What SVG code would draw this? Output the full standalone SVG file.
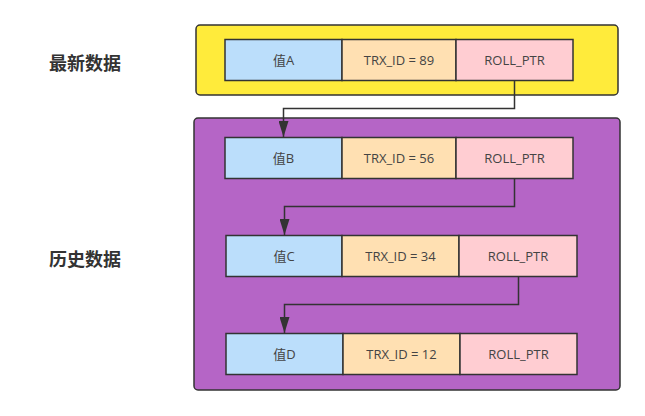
<svg xmlns="http://www.w3.org/2000/svg" width="645" height="416" viewBox="0 0 645 416">
<defs>
<style>
.cell{stroke:#333;stroke-width:1.5}
.v{fill:#BBDEFB}.t{fill:#FFE0B2}.r{fill:#FFCDD2}
.txt{font-family:"Open Sans","Noto Sans","Noto Sans CJK SC",sans-serif;font-size:13px;fill:#444;text-anchor:middle;dominant-baseline:central}
.lbl{font-family:"Noto Sans CJK SC",sans-serif;font-size:18px;font-weight:bold;fill:#333;text-anchor:middle;dominant-baseline:central}
.conn{fill:none;stroke:#333;stroke-width:1.5}
</style>
<marker id="arr" markerWidth="16" markerHeight="10" refX="16" refY="5" orient="auto" markerUnits="userSpaceOnUse" viewBox="0 0 16 10">
<path d="M0,0 L16,5 L0,10 Z" fill="#333"/>
</marker>
</defs>
<rect width="645" height="416" fill="#fff"/>
<g id="latest">
<rect x="196" y="25" width="422" height="70" rx="4" fill="#FFEB3B" stroke="#333" stroke-width="1.5"/>
<text class="lbl" x="85" y="62">最新数据</text>
</g>
<g id="history">
<rect x="194" y="118" width="426" height="272" rx="4" fill="#B565C6" stroke="#333" stroke-width="1.5"/>
<text class="lbl" x="85" y="258">历史数据</text>
</g>
<g id="rowA">
<rect class="cell v" x="225" y="39.5" width="117" height="41"/>
<rect class="cell t" x="342" y="39.5" width="114" height="41"/>
<rect class="cell r" x="456" y="39.5" width="117" height="41"/>
<text class="txt" x="283.5" y="60">值A</text>
<text class="txt" x="399" y="60">TRX_ID = 89</text>
<text class="txt" x="514.5" y="60">ROLL_PTR</text>
</g>
<g id="rowB">
<rect class="cell v" x="225" y="137.5" width="117" height="41"/>
<rect class="cell t" x="342" y="137.5" width="114" height="41"/>
<rect class="cell r" x="456" y="137.5" width="117" height="41"/>
<text class="txt" x="283.5" y="158">值B</text>
<text class="txt" x="399" y="158">TRX_ID = 56</text>
<text class="txt" x="514.5" y="158">ROLL_PTR</text>
</g>
<g id="rowC">
<rect class="cell v" x="226" y="235.5" width="116" height="41"/>
<rect class="cell t" x="342" y="235.5" width="117" height="41"/>
<rect class="cell r" x="459" y="235.5" width="118" height="41"/>
<text class="txt" x="284" y="256">值C</text>
<text class="txt" x="400.5" y="256">TRX_ID = 34</text>
<text class="txt" x="518" y="256">ROLL_PTR</text>
</g>
<g id="rowD">
<rect class="cell v" x="226" y="333.5" width="117" height="41"/>
<rect class="cell t" x="343" y="333.5" width="117" height="41"/>
<rect class="cell r" x="460" y="333.5" width="117" height="41"/>
<text class="txt" x="284.5" y="354">值D</text>
<text class="txt" x="401.5" y="354">TRX_ID = 12</text>
<text class="txt" x="518.5" y="354">ROLL_PTR</text>
</g>
<g id="connectors">
<path class="conn" d="M514.5,80.5 V108.5 H283.5 V137" marker-end="url(#arr)"/>
<path class="conn" d="M514.5,178.5 V206.5 H284.5 V235" marker-end="url(#arr)"/>
<path class="conn" d="M518.5,276.5 V304.5 H284.5 V333" marker-end="url(#arr)"/>
</g>
</svg>
